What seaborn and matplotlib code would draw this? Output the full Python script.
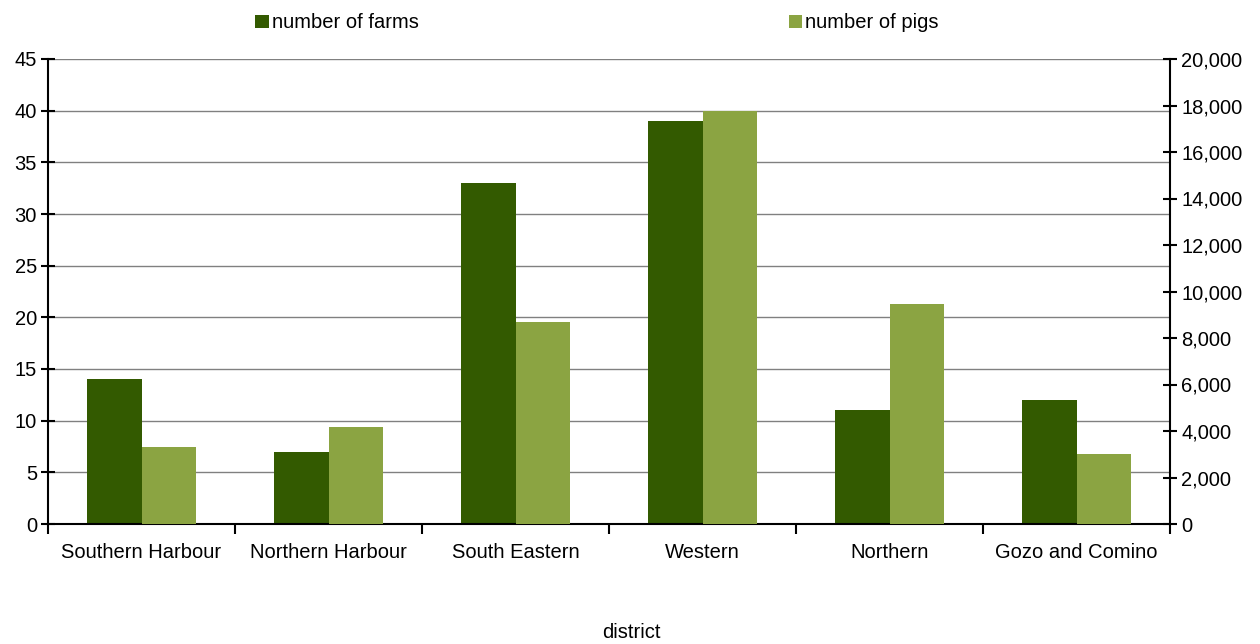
import matplotlib
matplotlib.use("Agg")
import matplotlib.pyplot as plt
import matplotlib.ticker as mticker
from matplotlib.patches import Patch
from matplotlib.colors import to_rgba
import seaborn as sns
import pandas as pd

districts = ["Southern Harbour", "Northern Harbour", "South Eastern", "Western", "Northern", "Gozo and Comino"]
farms = [14, 7, 33, 39, 11, 12]
pigs = [3300, 4170, 8700, 17780, 9460, 3010]
series_names = ["number of farms", "number of pigs"]
colors = ["#335a00", "#8ba442"]

sns.set_theme(style="white")
plt.rcParams["font.family"] = ["Liberation Sans", "DejaVu Sans"]
plt.rcParams["text.color"] = "black"
FS = 14.5

df = pd.concat([
    pd.DataFrame({"district": districts, "value": farms, "series": series_names[0]}),
    pd.DataFrame({"district": districts, "value": pigs, "series": series_names[1]}),
], ignore_index=True)

fig = plt.figure(figsize=(12.6, 6.44), dpi=100)
ax = fig.add_axes([48/1260, 1-524/644, (1170-48)/1260, (524-59)/644])
ax2 = ax.twinx()

pal = dict(zip(series_names, colors))
for a, keep in ((ax, colors[0]), (ax2, colors[1])):
    sns.barplot(data=df, x="district", y="value", hue="series", hue_order=series_names,
                order=districts, palette=pal, width=0.578, ax=a, legend=False, saturation=1)
    for p in list(a.patches):
        if to_rgba(p.get_facecolor()) != to_rgba(keep):
            p.remove()
        else:
            p.set_linewidth(0)

ax.set_xlim(-0.5, 5.5)
ax.set_ylim(0, 45)
ax.set_yticks(range(0, 46, 5))
ax2.set_ylim(0, 20000)
ax2.set_yticks(range(0, 20001, 2000))
ax2.yaxis.set_major_formatter(mticker.FuncFormatter(lambda v, p: f"{int(v):,}"))

ax.yaxis.grid(True, color="#808080", linewidth=1)
ax.set_axisbelow(True)
ax2.grid(False)

for a in (ax, ax2):
    for s in a.spines.values():
        s.set_visible(False)
ax.spines["left"].set_visible(True)
ax.spines["bottom"].set_visible(True)
ax2.spines["right"].set_visible(True)
for s in (ax.spines["left"], ax.spines["bottom"], ax2.spines["right"]):
    s.set_color("black")
    s.set_linewidth(1.5)

ax.tick_params(axis="y", direction="inout", length=10, width=1.5, color="black",
               labelsize=FS, labelcolor="black", left=True, pad=3)
ax2.tick_params(axis="y", direction="inout", length=10, width=1.5, color="black",
                labelsize=FS, labelcolor="black", right=True, pad=3)
ax.set_xticks(range(6))
ax.set_xticklabels(districts)
ax.tick_params(axis="x", which="major", length=0, labelsize=FS, labelcolor="black", pad=14)
ax.set_xticks([i - 0.5 for i in range(7)], minor=True)
ax.tick_params(axis="x", which="minor", direction="out", length=7, width=1.5, color="black", bottom=True)

ax.set_xlabel("")
ax.set_ylabel("")
ax2.set_ylabel("")
fig.text(631/1260, 1-632/644, "district", fontsize=FS, color="black", ha="center", va="center")

handles = [Patch(facecolor=c, edgecolor="none") for c in colors]
leg = fig.legend(handles, series_names, loc="center", bbox_to_anchor=(597/1260, 1-23/644), ncol=2,
                 frameon=False, fontsize=FS, handlelength=0.65, handleheight=0.65,
                 handletextpad=0.15, columnspacing=18.4)
for t in leg.get_texts():
    t.set_color("black")

fig.savefig("out.png", dpi=100)
